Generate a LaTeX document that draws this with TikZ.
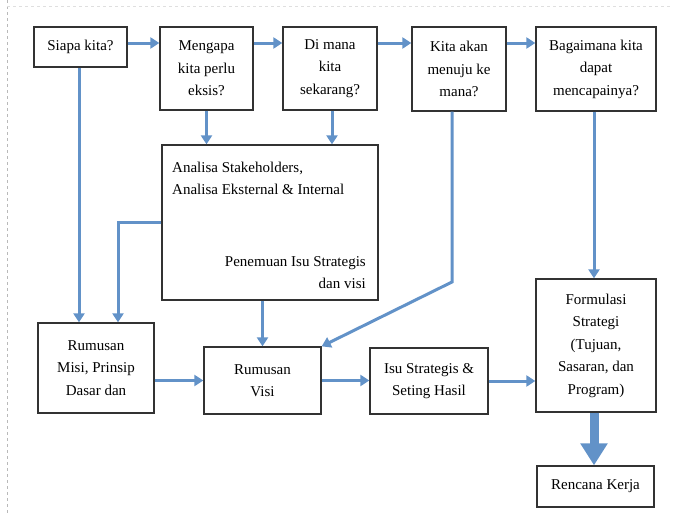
\documentclass[tikz,border=0pt]{standalone}
\usepackage{fontspec}
\setmainfont{Liberation Serif}
\usetikzlibrary{arrows.meta}
\definecolor{arrblue}{RGB}{98,146,200}
\definecolor{boxline}{RGB}{50,50,50}
\tikzset{
  boxnode/.style={draw=boxline, line width=1.3pt, fill=white, inner sep=0pt, align=center,
     font=\fontsize{15}{22.5}\selectfont},
  txt/.style={inner sep=0pt, font=\fontsize{15}{22.5}\selectfont},
  arr/.style={draw=arrblue, line width=3pt, -{Triangle[length=9pt,width=11pt]}},
  line/.style={draw=arrblue, line width=3pt},
  bigarr/.style={draw=arrblue, line width=9pt, -{Triangle[length=22pt,width=26pt]}},
  frame/.style={draw=gray!55, dashed, line width=1pt}
}
\begin{document}
\begin{tikzpicture}[x=1pt,y=-1pt]
\useasboundingbox (0,0) rectangle (673,514);
% frame
\draw[frame] (7,0) -- (7,514);
\draw[frame, draw=gray!25] (7,6) -- (673,6);

% top row
\node[boxnode, minimum width=93pt, minimum height=40pt] (siapa) at (80.5,47) {Siapa kita?};
\node[boxnode, minimum width=93pt, minimum height=83pt] (mengapa) at (206.5,68.5) {Mengapa\\kita perlu\\eksis?};
\node[boxnode, minimum width=94pt, minimum height=83pt] (dimana) at (330,68.5) {Di mana\\kita\\sekarang?};
\node[boxnode, minimum width=94pt, minimum height=84pt] (kita) at (459,69) {Kita akan\\menuju ke\\mana?};
\node[boxnode, minimum width=120pt, minimum height=84pt] (bagai) at (596,69) {Bagaimana kita\\dapat\\mencapainya?};

% analisa
\node[boxnode, minimum width=216pt, minimum height=155pt] (analisa) at (270,222.5) {};
\node[txt, anchor=west, align=left] (anltop) at (172,178.5) {Analisa Stakeholders,\\Analisa Eksternal \& Internal};
\node[txt, anchor=east, align=right] (anlbot) at (366,272.5) {Penemuan Isu Strategis\\dan visi};

% lower row
\node[boxnode, minimum width=116pt, minimum height=90pt] (misi) at (96,368) {Rumusan\\Misi, Prinsip\\Dasar dan};
\node[boxnode, minimum width=117pt, minimum height=67pt] (visi) at (262.5,380.5) {Rumusan\\Visi};
\node[boxnode, minimum width=118pt, minimum height=66pt] (isu) at (429,381) {Isu Strategis \&\\Seting Hasil};
\node[boxnode, minimum width=120pt, minimum height=133pt] (formulasi) at (596,345.5) {Formulasi\\Strategi\\(Tujuan,\\Sasaran, dan\\Program)};
\node[boxnode, minimum width=117pt, minimum height=41pt] (rencana) at (595.5,486.5) {Rencana Kerja};

% top arrows
\draw[arr] ([yshift=4pt]siapa.east) -- ([yshift=25.5pt]mengapa.west);
\draw[arr] ([yshift=25.5pt]mengapa.east) -- ([yshift=25.5pt]dimana.west);
\draw[arr] ([yshift=25.5pt]dimana.east) -- ([yshift=26pt]kita.west);
\draw[arr] ([yshift=26pt]kita.east) -- ([yshift=26pt]bagai.west);

% down arrows
\draw[arr] (mengapa.south) -- (mengapa.south |- analisa.north);
\draw[arr] ([xshift=2pt]dimana.south) -- ([xshift=2pt]dimana.south |- analisa.north);
\draw[arr] ([xshift=-1.5pt]siapa.south) -- ([xshift=-1.5pt]siapa.south |- misi.north);
\draw[arr] (analisa.west) -| ([xshift=22pt]misi.north);
\draw[arr] (analisa.south -| visi.north) -- (visi.north);
\coordinate (bend) at (452,282);
\draw[arr] ([xshift=-7pt]kita.south) -- (bend) -- (visi.north east);
\draw[arr] ([xshift=-2pt]bagai.south) -- ([xshift=-2pt]formulasi.north);

% horizontal lower arrows
\draw[arr] (misi.east |- visi.west) -- (visi.west);
\draw[arr] (visi.east) -- (visi.east -| isu.west);
\draw[arr] (isu.east) -- (isu.east -| formulasi.west);

% thick arrow
\draw[bigarr] ([xshift=-2pt]formulasi.south) -- ([xshift=-1.5pt]rencana.north);
\end{tikzpicture}
\end{document}
